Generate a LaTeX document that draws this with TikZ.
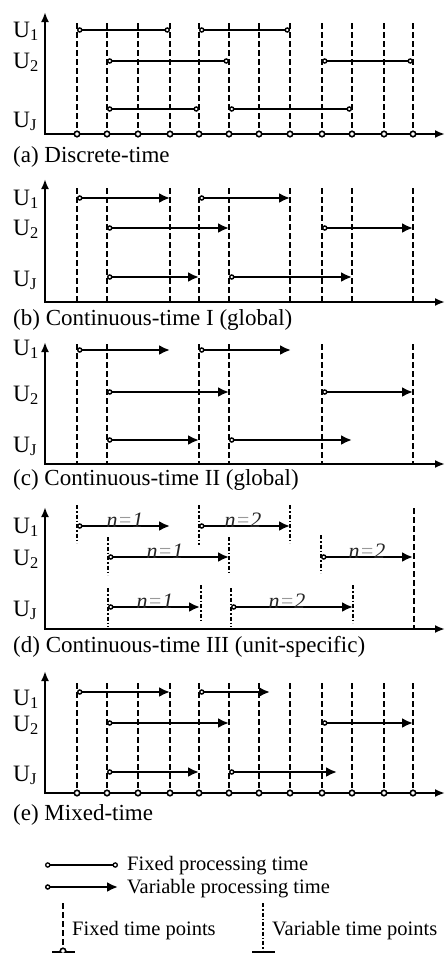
\documentclass[tikz,border=0pt]{standalone}
\usepackage{fontspec}
\setmainfont{Liberation Serif}
\usetikzlibrary{arrows.meta}
\tikzset{
  axisline/.style={line width=2.2pt, {Latex[length=10pt,width=8pt]}-{Latex[length=10pt,width=8pt]}},
  tline/.style={line width=1.7pt, dash pattern=on 5.5pt off 3.5pt},
  uline/.style={line width=1.3pt, dash pattern=on 4pt off 2pt on 1.5pt off 2pt},
  fixbar/.style={line width=2.6pt, {Circle[length=5.5pt,fill=white,line width=1.4pt]}-{Circle[length=5.5pt,fill=white,line width=1.4pt]}},
  varbar/.style={line width=2.8pt, {Circle[length=5.5pt,fill=white,line width=1.4pt]}-{Latex[length=11pt,width=10pt]}},
  tdot/.style={circle, draw, fill=white, line width=1.6pt, inner sep=0pt, minimum size=5.5pt},
  plab/.style={font=\fontsize{23}{26}\selectfont, anchor=base west, inner sep=0pt},
  ulab/.style={font=\fontsize{23.5}{26}\selectfont, anchor=base west, inner sep=0pt},
  leglab/.style={font=\fontsize{20.5}{24}\selectfont, anchor=base west, inner sep=0pt},
  nlab/.style={font=\fontsize{22}{24}\selectfont\itshape, anchor=base, inner sep=0pt},
}
\newcommand{\nlabtext}[1]{\textcolor{black!85}{n}\textcolor{black!40}{=}\textcolor{black!85}{#1}}
\begin{document}
\begin{tikzpicture}[x=1pt,y=-1pt]
\useasboundingbox (0,0) rectangle (446,953);

% ---------------- (a) Discrete-time ----------------
\foreach \x in {77,107,138,170,199,229,259,290,322,352,384,413}
  \draw[tline] (\x,23) -- (\x,134);
\draw[axisline] (45,12) -- (45,134) -- (445,134);
\foreach \x in {77,107,138,170,199,229,259,290,322,352,384,413}
  \node[tdot] at (\x,134) {};
\draw[fixbar] (77,30) -- (170,30);
\draw[fixbar] (199,30) -- (290,30);
\draw[fixbar] (107,61) -- (229,61);
\draw[fixbar] (322,61) -- (413,61);
\draw[fixbar] (107,109) -- (199,109);
\draw[fixbar] (229,109) -- (352,109);
\node[ulab] (ua1) at (13,37) {U\textsubscript{1}};
\node[ulab] (ua2) at (13,68) {U\textsubscript{2}};
\node[ulab] (uaJ) at (13,127) {U\textsubscript{J}};
\node[plab] (pa) at (13,162) {(a) Discrete-time};

% ---------------- (b) Continuous-time I ----------------
\foreach \x in {77,107,170,199,229,290,322,352,413}
  \draw[tline] (\x,188) -- (\x,302);
\draw[axisline] (45,179) -- (45,302) -- (445,302);
\draw[varbar] (77,198) -- (170,198);
\draw[varbar] (199,198) -- (290,198);
\draw[varbar] (107,228) -- (229,228);
\draw[varbar] (322,228) -- (413,228);
\draw[varbar] (107,277) -- (199,277);
\draw[varbar] (229,277) -- (352,277);
\node[ulab] (ub1) at (13,205) {U\textsubscript{1}};
\node[ulab] (ub2) at (13,235) {U\textsubscript{2}};
\node[ulab] (ubJ) at (13,286) {U\textsubscript{J}};
\node[plab] (pb) at (13,325) {(b) Continuous-time I (global)};

% ---------------- (c) Continuous-time II ----------------
\foreach \x in {77,107,199,229,322,413}
  \draw[tline] (\x,344) -- (\x,464);
\draw[axisline] (45,342) -- (45,464) -- (445,464);
\draw[varbar] (77,350) -- (170,350);
\draw[varbar] (199,350) -- (291,350);
\draw[varbar] (107,392) -- (229,392);
\draw[varbar] (322,392) -- (413,392);
\draw[varbar] (107,440) -- (199,440);
\draw[varbar] (229,440) -- (352,440);
\node[ulab] (uc1) at (13,355) {U\textsubscript{1}};
\node[ulab] (uc2) at (13,401) {U\textsubscript{2}};
\node[ulab] (ucJ) at (13,452) {U\textsubscript{J}};
\node[plab] (pc) at (13,485) {(c) Continuous-time II (global)};

% ---------------- (d) Continuous-time III ----------------
\draw[uline] (77,505) -- (77,543);
\draw[uline] (199,505) -- (199,545);
\draw[uline] (290,505) -- (290,543);
\draw[uline] (108,537) -- (108,575);
\draw[uline] (229,537) -- (229,573);
\draw[uline] (321,535) -- (321,573);
\draw[tline] (414,508) -- (414,629);
\draw[uline] (108,588) -- (108,627);
\draw[uline] (201,585) -- (201,620);
\draw[uline] (231,588) -- (231,627);
\draw[uline] (353,585) -- (353,623);
\draw[axisline] (45,507) -- (45,629) -- (445,629);
\draw[varbar] (77,526) -- (170,526);
\draw[varbar] (199,526) -- (290,526);
\draw[varbar] (108,557) -- (229,557);
\draw[varbar] (321,557) -- (413,557);
\draw[varbar] (108,607) -- (200,607);
\draw[varbar] (231,607) -- (353,607);
\node[nlab] (n11) at (125,527) {\nlabtext{1}};
\node[nlab] (n12) at (243,527) {\nlabtext{2}};
\node[nlab] (n21) at (165,558) {\nlabtext{1}};
\node[nlab] (n22) at (367,558) {\nlabtext{2}};
\node[nlab] (nJ1) at (155,608) {\nlabtext{1}};
\node[nlab] (nJ2) at (287,608) {\nlabtext{2}};
\node[ulab] (ud1) at (13,533) {U\textsubscript{1}};
\node[ulab] (ud2) at (13,565) {U\textsubscript{2}};
\node[ulab] (udJ) at (13,616) {U\textsubscript{J}};
\node[plab] (pd) at (13,652) {(d) Continuous-time III (unit-specific)};

% ---------------- (e) Mixed-time ----------------
\foreach \x in {77,107,138,170,199,229,259,290,322,352,384,413}
  \draw[tline] (\x,683) -- (\x,793);
\draw[axisline] (45,671) -- (45,793) -- (445,793);
\foreach \x in {77,107,138,170,199,229,259,290,322,352,384,413}
  \node[tdot] at (\x,793) {};
\draw[varbar] (77,692) -- (170,692);
\draw[varbar] (199,692) -- (270,692);
\draw[varbar] (107,723) -- (229,723);
\draw[varbar] (322,723) -- (413,723);
\draw[varbar] (107,772) -- (199,772);
\draw[varbar] (229,772) -- (337,772);
\node[ulab] (ue1) at (13,705) {U\textsubscript{1}};
\node[ulab] (ue2) at (13,731) {U\textsubscript{2}};
\node[ulab] (ueJ) at (13,781) {U\textsubscript{J}};
\node[plab] (pe) at (13,820) {(e) Mixed-time};

% ---------------- Legend ----------------
\draw[line width=1.8pt, {Circle[length=5.5pt,fill=white,line width=1.3pt]}-{Circle[length=5.5pt,fill=white,line width=1.3pt]}] (45,865) -- (118,865);
\node[leglab] (l1) at (127,870) {Fixed processing time};
\draw[varbar] (45,887) -- (118,887);
\node[leglab] (l2) at (127,893) {Variable processing time};
\draw[tline] (63,903) -- (63,950);
\draw[line width=1.8pt] (52,952) -- (75,952);
\node[tdot] at (63,951) {};
\node[leglab] (l3) at (72,935) {Fixed time points};
\draw[uline] (263,903) -- (263,953);
\draw[line width=1.8pt] (252,952) -- (275,952);
\node[leglab] (l4) at (272,935) {Variable time points};
\end{tikzpicture}
\end{document}
